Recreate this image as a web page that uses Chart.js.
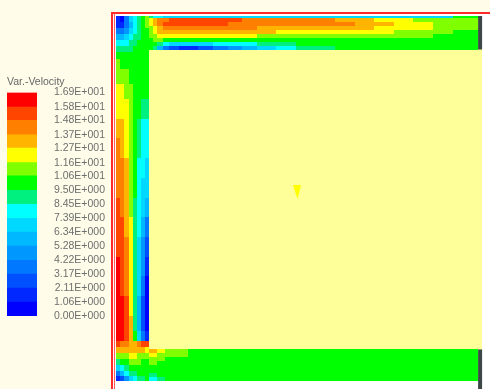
<!DOCTYPE html>
<html>
<head>
<meta charset="utf-8">
<script src="https://cdn.jsdelivr.net/npm/chart.js@4/dist/chart.umd.min.js"></script>
<style>
  html, body { margin: 0; padding: 0; background: #fffdea; }
  #wrap { position: relative; width: 490px; height: 389px; overflow: hidden; }
  #frame { position: absolute; left: 111px; top: 12px; width: 377px; height: 377px;
    border-left: 2px solid #ff2a2a; border-top: 2px solid #ff2a2a; background: #fff; }
  #frameInner { position: absolute; left: 114px; top: 14px; width: 1px; height: 375px; background: #ff5a5a; }
  #fieldChart { position: absolute; left: 0; top: 0; }
  #legendChart { position: absolute; left: 0; top: 68px; }
</style>
</head>
<body>
<div id="wrap">
  <div id="frame"></div>
  <div id="frameInner"></div>
  <canvas id="fieldChart" width="490" height="389"></canvas>
  <canvas id="legendChart" width="108" height="260"></canvas>
</div>
<script>
// contour levels of the velocity magnitude (m/s)
const LEVELS = [0, 1.06, 2.11, 3.17, 4.22, 5.28, 6.34, 7.39, 8.45, 9.50,
  10.6, 11.6, 12.7, 13.7, 14.8, 15.8, 16.9];

// one colour per band, slowest first
const BAND_COLORS = [
  '#0000ff', '#0028ff', '#0050ff', '#0078ff', '#0098ff', '#00b8ff', '#00d8ff', '#00ffff',
  '#00f080', '#00ff00', '#80ff00', '#ffff00', '#ffb400', '#ff8000', '#ff4500', '#ff0000'
];

// duct geometry in mm: x from the outer wall, y from the floor
// upper duct (x cell edges, y cell edges from the ceiling down)
const topX = [34, 38, 42, 48, 54, 64, 74, 84, 99, 114, 129, 144, 164, 184, 204, 224, 244, 264, 284, 304, 324, 344, 370];
const topY = [370, 368, 364, 360, 356, 352, 348, 344, 340, 336];
const topVel = [
  [9.0, 7.9, 7.9, 6.9, 6.9, 6.9, 6.9, 6.9, 6.9, 6.9, 6.9, 6.9, 6.9, 6.9, 6.9, 6.9, 6.9, 6.9, 6.9, 6.9, 6.9, 10.0],
  [12.2, 13.2, 14.3, 14.3, 15.3, 15.3, 15.3, 15.3, 15.3, 15.3, 14.3, 14.3, 14.3, 14.3, 14.3, 13.2, 13.2, 12.2, 12.2, 11.1, 11.1, 11.1],
  [12.2, 13.2, 14.3, 15.3, 15.3, 15.3, 15.3, 15.3, 15.3, 14.3, 14.3, 14.3, 14.3, 14.3, 14.3, 14.3, 13.2, 13.2, 12.2, 12.2, 11.1, 11.1],
  [11.1, 12.2, 13.2, 14.3, 14.3, 14.3, 14.3, 14.3, 14.3, 14.3, 14.3, 13.2, 13.2, 13.2, 13.2, 13.2, 13.2, 12.2, 12.2, 12.2, 11.1, 11.1],
  [11.1, 12.2, 13.2, 13.2, 13.2, 13.2, 13.2, 13.2, 13.2, 13.2, 13.2, 13.2, 12.2, 12.2, 12.2, 12.2, 12.2, 12.2, 11.1, 11.1, 11.1, 10.0],
  [11.1, 11.1, 12.2, 12.2, 12.2, 12.2, 12.2, 12.2, 12.2, 12.2, 12.2, 11.1, 11.1, 11.1, 11.1, 11.1, 11.1, 11.1, 11.1, 11.1, 10.0, 10.0],
  [10.0, 11.1, 11.1, 10.0, 10.0, 10.0, 10.0, 10.0, 10.0, 10.0, 10.0, 10.0, 10.0, 10.0, 10.0, 10.0, 10.0, 10.0, 10.0, 10.0, 10.0, 10.0],
  [10.0, 10.0, 9.0, 7.9, 6.9, 6.9, 6.9, 6.9, 7.9, 7.9, 7.9, 9.0, 9.0, 10.0, 10.0, 10.0, 10.0, 10.0, 10.0, 10.0, 10.0, 10.0],
  [10.0, 9.0, 5.8, 3.7, 2.6, 1.6, 1.6, 2.6, 3.7, 4.8, 5.8, 6.9, 7.9, 9.0, 9.0, 10.0, 10.0, 10.0, 10.0, 10.0, 10.0, 10.0]
];

// vertical duct, full height including both bends
const leftX = [0, 4, 8, 13, 17, 21, 26, 30, 34];
const leftY = [370, 364, 358, 352, 346, 340, 334, 326, 316, 301, 286, 266, 246, 226, 206, 186,
  166, 146, 126, 106, 86, 66, 51, 41, 34, 28, 22, 16, 10, 5, 0];
const leftVel = [
  [1.6, 0.5, 3.7, 6.9, 7.9, 9.0, 10.0, 11.1],
  [1.6, 1.6, 3.7, 5.8, 7.9, 9.0, 10.0, 11.1],
  [3.7, 3.7, 4.8, 6.9, 7.9, 9.0, 10.0, 10.0],
  [5.8, 5.8, 6.9, 7.9, 9.0, 9.0, 10.0, 10.0],
  [7.9, 7.9, 7.9, 9.0, 9.0, 10.0, 10.0, 10.0],
  [9.0, 9.0, 9.0, 9.0, 10.0, 10.0, 10.0, 10.0],
  [10.0, 10.0, 10.0, 10.0, 10.0, 10.0, 10.0, 10.0],
  [11.1, 10.0, 10.0, 10.0, 10.0, 10.0, 10.0, 10.0],
  [11.1, 11.1, 11.1, 10.0, 10.0, 10.0, 10.0, 10.0],
  [12.2, 12.2, 11.1, 11.1, 10.0, 10.0, 10.0, 10.0],
  [12.2, 12.2, 12.2, 11.1, 10.0, 10.0, 9.0, 9.0],
  [13.2, 13.2, 12.2, 11.1, 10.0, 9.0, 7.9, 7.9],
  [14.3, 13.2, 12.2, 11.1, 10.0, 9.0, 7.9, 7.9],
  [14.3, 14.3, 13.2, 11.1, 10.0, 7.9, 7.9, 6.9],
  [14.3, 14.3, 13.2, 11.1, 10.0, 7.9, 6.9, 6.9],
  [15.3, 14.3, 13.2, 11.1, 9.0, 7.9, 6.9, 5.8],
  [15.3, 15.3, 13.2, 12.2, 9.0, 7.9, 5.8, 3.7],
  [15.3, 15.3, 14.3, 12.2, 9.0, 6.9, 4.8, 2.6],
  [16.4, 15.3, 14.3, 12.2, 9.0, 6.9, 4.8, 1.6],
  [16.4, 15.3, 14.3, 12.2, 9.0, 6.9, 3.7, 0.5],
  [16.4, 16.4, 15.3, 12.2, 9.0, 5.8, 2.6, 0.5],
  [16.4, 16.4, 15.3, 13.2, 9.0, 5.8, 2.6, 0.5],
  [16.4, 16.4, 15.3, 13.2, 10.0, 6.9, 3.7, 1.6],
  [15.3, 14.3, 14.3, 13.2, 13.2, 14.3, 15.3, 15.3],
  [13.2, 13.2, 13.2, 13.2, 13.2, 13.2, 13.2, 12.2],
  [11.1, 11.1, 11.1, 12.2, 12.2, 11.1, 11.1, 11.1],
  [9.0, 10.0, 10.0, 11.1, 11.1, 11.1, 10.0, 10.0],
  [6.9, 7.9, 9.0, 10.0, 10.0, 10.0, 10.0, 10.0],
  [3.7, 5.8, 7.9, 9.0, 9.0, 10.0, 10.0, 10.0],
  [1.6, 2.6, 4.8, 6.9, 7.9, 9.0, 9.0, 10.0]
];

// lower duct
const bottomX = [34, 42, 50, 60, 74, 94, 144, 214, 370];
const bottomY = [32, 28, 24, 20, 16, 12, 8, 4, 0];
const bottomVel = [
  [13.2, 12.2, 11.1, 11.1, 10.0, 10.0, 10.0, 10.0],
  [12.2, 11.1, 11.1, 11.1, 10.0, 10.0, 10.0, 10.0],
  [11.1, 11.1, 10.0, 10.0, 10.0, 10.0, 10.0, 10.0],
  [11.1, 10.0, 10.0, 10.0, 10.0, 10.0, 10.0, 10.0],
  [10.0, 10.0, 10.0, 10.0, 10.0, 10.0, 10.0, 10.0],
  [10.0, 10.0, 10.0, 10.0, 10.0, 10.0, 10.0, 10.0],
  [9.0, 10.0, 10.0, 10.0, 10.0, 10.0, 10.0, 10.0],
  [7.9, 9.0, 10.0, 10.0, 10.0, 10.0, 10.0, 10.0]
];

// probe marker
const probePoint = [{ x: 185, y: 191.5 }];

const FONT = "'Liberation Sans', Arial, sans-serif";

function bandColor(v) {
  let k = 0;
  while (k < BAND_COLORS.length - 1 && v >= LEVELS[k + 1]) k++;
  return BAND_COLORS[k];
}

function formatSci(v) {
  const [m, e] = Number(v).toExponential(2).split('e');
  const n = Math.abs(parseInt(e, 10));
  return m + 'E' + (e[0] === '-' ? '-' : '+') + String(n).padStart(3, '0');
}

function probeIcon() {
  const c = document.createElement('canvas');
  c.width = 8;
  c.height = 14;
  const g = c.getContext('2d');
  g.fillStyle = '#ffff00';
  g.beginPath();
  g.moveTo(0, 0);
  g.lineTo(8, 0);
  g.lineTo(4.5, 14);
  g.closePath();
  g.fill();
  return c;
}

const contourPlugin = {
  id: 'contour',
  beforeDatasetsDraw(chart) {
    const { ctx, chartArea: a, scales: { x, y } } = chart;
    ctx.save();
    // solid block in the middle
    ctx.fillStyle = '#ffff99';
    ctx.fillRect(a.left, a.top, a.right - a.left, a.bottom - a.top);

    [[topX, topY, topVel], [leftX, leftY, leftVel], [bottomX, bottomY, bottomVel]].forEach(([xs, ys, vals]) => {
      vals.forEach((row, j) => {
        row.forEach((v, i) => {
          const x0 = Math.round(x.getPixelForValue(xs[i]));
          const x1 = Math.round(x.getPixelForValue(xs[i + 1]));
          const y0 = Math.round(y.getPixelForValue(ys[j]));
          const y1 = Math.round(y.getPixelForValue(ys[j + 1]));
          ctx.fillStyle = bandColor(v);
          ctx.fillRect(x0, y0, x1 - x0, y1 - y0);
        });
      });
    });

    // outlet boundaries on the right
    ctx.fillStyle = '#3c4848';
    const ox = x.getPixelForValue(370);
    ctx.fillRect(ox, y.getPixelForValue(370), 4, y.getPixelForValue(336) - y.getPixelForValue(370));
    ctx.fillRect(ox, y.getPixelForValue(32), 4, chart.height - y.getPixelForValue(32));
    ctx.restore();
  }
};

Chart.defaults.font.family = FONT;

new Chart(document.getElementById('fieldChart'), {
  type: 'scatter',
  data: {
    datasets: [{
      data: probePoint,
      pointStyle: probeIcon(),
      pointRadius: 7,
      pointHoverRadius: 7
    }]
  },
  options: {
    responsive: false,
    animation: false,
    events: [],
    layout: { padding: { left: 116, top: 16, right: 0, bottom: 3 } },
    plugins: { legend: { display: false }, tooltip: { enabled: false } },
    scales: {
      x: { type: 'linear', display: false, min: 0, max: 374 },
      y: { type: 'linear', display: false, min: 0, max: 370 }
    }
  },
  plugins: [contourPlugin]
});

new Chart(document.getElementById('legendChart'), {
  type: 'bar',
  data: {
    labels: [''],
    datasets: BAND_COLORS.map((c, k) => ({
      data: [LEVELS[k + 1] - LEVELS[k]],
      backgroundColor: c,
      borderWidth: 0,
      barPercentage: 1,
      categoryPercentage: 1
    }))
  },
  options: {
    responsive: false,
    animation: false,
    events: [],
    layout: { padding: { left: 7, right: 3, top: 2, bottom: 12 } },
    plugins: {
      legend: { display: false },
      tooltip: { enabled: false },
      title: {
        display: true,
        text: 'Var.-Velocity',
        align: 'start',
        color: '#666',
        font: { family: FONT, size: 10.5, weight: 'normal' },
        padding: { top: 6, bottom: 4 }
      }
    },
    scales: {
      x: { display: false, stacked: true },
      y: {
        stacked: true,
        position: 'right',
        min: 0,
        max: 16.9,
        grid: { display: false },
        border: { display: false },
        afterBuildTicks: s => { s.ticks = LEVELS.map(v => ({ value: v })); },
        afterFit: s => { s.width = 68; },
        ticks: {
          autoSkip: false,
          crossAlign: 'far',
          padding: 0,
          color: '#6e6e6e',
          font: { family: FONT, size: 10.5 },
          callback: v => formatSci(v)
        }
      }
    }
  }
});
</script>
</body>
</html>
